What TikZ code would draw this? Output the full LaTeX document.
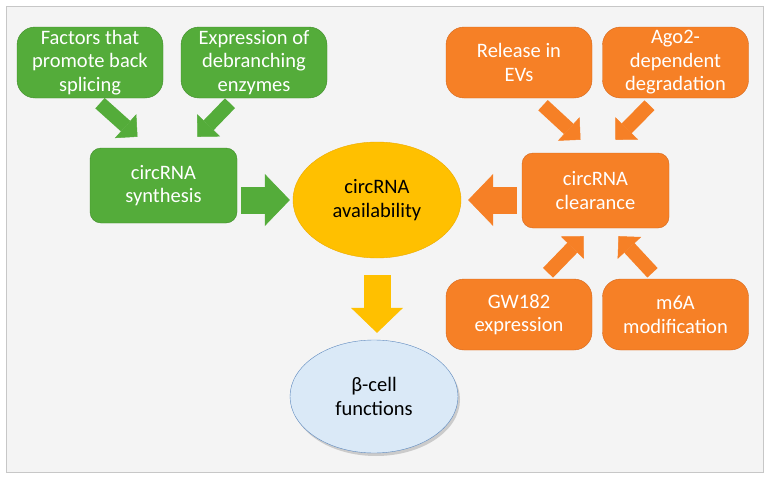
\documentclass[tikz,border=0pt]{standalone}
\usepackage{fontspec}
\setmainfont{Carlito}
\usetikzlibrary{arrows.meta,shapes.geometric,shadows}
\definecolor{greenfill}{RGB}{84,172,58}
\definecolor{greenedge}{RGB}{62,140,40}
\definecolor{orangefill}{RGB}{246,128,38}
\definecolor{orangeedge}{RGB}{214,104,28}
\definecolor{goldfill}{RGB}{255,192,0}
\definecolor{goldedge}{RGB}{236,170,0}
\definecolor{bluefill}{RGB}{218,233,247}
\definecolor{blueedge}{RGB}{92,136,190}
\definecolor{panel}{RGB}{244,244,244}

\begin{document}
\begin{tikzpicture}[x=1pt,y=-1pt,font=\fontsize{20.5}{23.5}\selectfont,
    cause box/.style={rectangle,rounded corners=18pt,minimum width=146pt,minimum height=71pt,align=center,inner sep=1pt,text=white},
    main box/.style={rectangle,rounded corners=11pt,minimum width=147pt,minimum height=75pt,align=center,text=white},
    big arrow/.style={line width=27pt,-{Triangle[length=25pt,width=52pt,line width=0.5pt]}},
    small arrow/.style={line width=14pt,-{Triangle[length=16pt,width=32pt,line width=0.5pt]}}]
    \useasboundingbox (0,0) rectangle (769,479);
    \fill[white] (0,0) rectangle (769,479);
    \draw[fill=panel,draw=black!22] (6,6) rectangle (763,472);

    \node [cause box, draw=greenedge, fill=greenfill](fac) at (90,62.5) {Factors that\\promote back\\splicing};
    \node [cause box, draw=greenedge, fill=greenfill](deb) at (254,62.5) {Expression of\\debranching\\enzymes};
    \node [main box, draw=greenedge, fill=greenfill](syn) at (163.5,185.5) {circRNA\\synthesis};

    \node [ellipse, draw=goldedge, fill=goldfill, minimum width=168pt, minimum height=116pt, inner sep=0pt, align=center](avail) at (377,200) {circRNA\\availability};
    \node [ellipse, draw=blueedge, fill=bluefill, minimum width=168pt, minimum height=113pt, inner sep=0pt, align=center,
        drop shadow={shadow xshift=2pt,shadow yshift=-3pt,opacity=0.35}](beta) at (374,396.5) {β-cell\\functions};

    \node [cause box, draw=orangeedge, fill=orangefill](evs) at (519,62.5) {Release in\\EVs};
    \node [cause box, draw=orangeedge, fill=orangefill](ago) at (675.5,62.5) {Ago2-\\dependent\\degradation};
    \node [main box, draw=orangeedge, fill=orangefill](clr) at (595.5,190.5) {circRNA\\clearance};
    \node [cause box, draw=orangeedge, fill=orangefill](gw) at (519,314.5) {GW182\\expression};
    \node [cause box, draw=orangeedge, fill=orangefill](m6a) at (675.5,314.5) {m6A\\modification};

    % block arrows
    \draw [small arrow, greenfill] ([xshift=10pt,yshift=-5pt]fac.south) -- ([xshift=-26pt,yshift=11pt]syn.north);
    \draw [small arrow, greenfill] ([xshift=-24pt,yshift=-5pt]deb.south) -- ([xshift=34pt,yshift=11pt]syn.north);
    \draw [big arrow, greenfill, shorten <=4pt, shorten >=3pt] (syn.east |- avail.west) -- (avail.west);

    \draw [small arrow, orangefill] ([xshift=24pt,yshift=-7pt]evs.south) -- ([xshift=-15pt,yshift=13pt]clr.north);
    \draw [small arrow, orangefill] ([xshift=-26pt,yshift=-7pt]ago.south) -- ([xshift=20pt,yshift=13pt]clr.north);
    \draw [small arrow, orangefill] ([xshift=29pt,yshift=6pt]gw.north) -- ([xshift=-12pt,yshift=-8pt]clr.south);
    \draw [small arrow, orangefill] ([xshift=-23pt,yshift=6pt]m6a.north) -- ([xshift=23pt,yshift=-8pt]clr.south);
    \draw [big arrow, orangefill, shorten <=5pt, shorten >=7pt] (clr.west |- avail.east) -- (avail.east);

    \draw [big arrow, goldfill, shorten <=17pt, shorten >=7pt] (avail.south) -- (avail.south |- beta.north);
\end{tikzpicture}
\end{document}
